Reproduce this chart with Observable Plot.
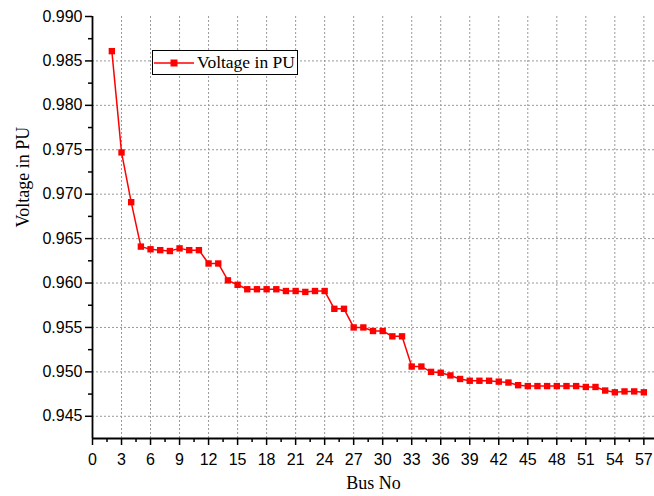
<!DOCTYPE html>
<html>
<head>
<meta charset="utf-8">
<script src="https://cdn.jsdelivr.net/npm/d3@7"></script>
<script src="https://cdn.jsdelivr.net/npm/@observablehq/plot@0.6"></script>
<style>
  body { margin: 0; background: #fff; }
  #wrap { position: relative; width: 654px; height: 496px; }
  #legend {
    position: absolute; left: 152px; top: 50px; height: 23px;
    border: 1.5px solid #000; background: #fff; padding-right: 2px;
    font-family: "Liberation Serif", "Times New Roman", serif; font-size: 17.5px;
    display: flex; align-items: center; white-space: nowrap;
  }
  #legend svg { display: block; margin-left: 1px; margin-right: 3px; }
</style>
</head>
<body>
<div id="wrap">
  <div id="chart"></div>
  <div id="legend"><svg width="40" height="12"><line x1="0" y1="6" x2="40" y2="6" stroke="red" stroke-width="1.5"/><rect x="16.5" y="2.5" width="7" height="7" fill="red"/></svg><span>Voltage in PU</span></div>
</div>
<script>
const busNo = [2,3,4,5,6,7,8,9,10,11,12,13,14,15,16,17,18,19,20,21,22,23,24,25,26,27,28,29,30,31,32,33,34,35,36,37,38,39,40,41,42,43,44,45,46,47,48,49,50,51,52,53,54,55,56,57];
const voltage = [0.9861,0.9747,0.9691,0.9641,0.9638,0.9637,0.9636,0.9639,0.9637,0.9637,0.9622,0.9622,0.9603,0.9598,0.9593,0.9593,0.9593,0.9593,0.9591,0.9591,0.9590,0.9591,0.9591,0.9571,0.9571,0.9550,0.9550,0.9546,0.9546,0.9540,0.9540,0.9506,0.9506,0.9500,0.9499,0.9496,0.9492,0.9490,0.9490,0.9490,0.9489,0.9488,0.9485,0.9484,0.9484,0.9484,0.9484,0.9484,0.9484,0.9483,0.9483,0.9479,0.9477,0.9478,0.9478,0.9477];
const xTicks = [0,3,6,9,12,15,18,21,24,27,30,33,36,39,42,45,48,51,54,57];
const xMinor = [1.5,4.5,7.5,10.5,13.5,16.5,19.5,22.5,25.5,28.5,31.5,34.5,37.5,40.5,43.5,46.5,49.5,52.5,55.5];
const yTicks = [0.945,0.950,0.955,0.960,0.965,0.970,0.975,0.980,0.985,0.990];
const yMinor = [0.9475,0.9525,0.9575,0.9625,0.9675,0.9725,0.9775,0.9825,0.9875];
const xGrid = xTicks.filter(d => d > 0);
const yGrid = yTicks.filter(d => d < 0.99);

const data = busNo.map((b, i) => ({bus: b, v: voltage[i]}));

const chart = Plot.plot({
  width: 654, height: 496,
  marginLeft: 92, marginRight: 0, marginTop: 16, marginBottom: 58,
  style: {fontFamily: "'Liberation Sans', Arial, sans-serif", fontSize: "16px", background: "#fff", overflow: "visible"},
  x: {domain: [0, 58.1], axis: null},
  y: {domain: [0.9425, 0.990], axis: null},
  marks: [
    Plot.ruleX(xGrid, {stroke: "#999", strokeDasharray: "2,2", strokeWidth: 1}),
    Plot.ruleY(yGrid, {stroke: "#999", strokeDasharray: "2,2", strokeWidth: 1}),
    Plot.line(data, {x: "bus", y: "v", stroke: "red", strokeWidth: 1.5}),
    Plot.dot(data, {x: "bus", y: "v", symbol: "square", fill: "red", r: 3.6}),
    Plot.axisX(xTicks, {tickSize: 7, tickPadding: 8, fontSize: 16, label: null, stroke: "#000", strokeWidth: 1.5, fill: "#000"}),
    Plot.axisX(xMinor, {tickSize: 4, text: null, label: null, stroke: "#000", strokeWidth: 1.5}),
    Plot.axisY(yTicks, {tickSize: 7, tickPadding: 3, fontSize: 16, label: null, tickFormat: d3.format(".3f"), stroke: "#000", strokeWidth: 1.5, fill: "#000"}),
    Plot.axisY(yMinor, {tickSize: 4, text: null, label: null, stroke: "#000", strokeWidth: 1.5}),
    Plot.ruleX([0], {stroke: "#000", strokeWidth: 1.8}),
    Plot.ruleY([0.9425], {stroke: "#000", strokeWidth: 1.8}),
    Plot.text(["Bus No"], {frameAnchor: "bottom", dy: 50, fontFamily: "'Liberation Serif', 'Times New Roman', serif", fontSize: 18, fill: "#000"}),
    Plot.text(["Voltage in PU"], {frameAnchor: "left", dx: -69, rotate: -90, fontFamily: "'Liberation Serif', 'Times New Roman', serif", fontSize: 18, fill: "#000"})
  ]
});
document.getElementById("chart").appendChild(chart);
</script>
</body>
</html>
